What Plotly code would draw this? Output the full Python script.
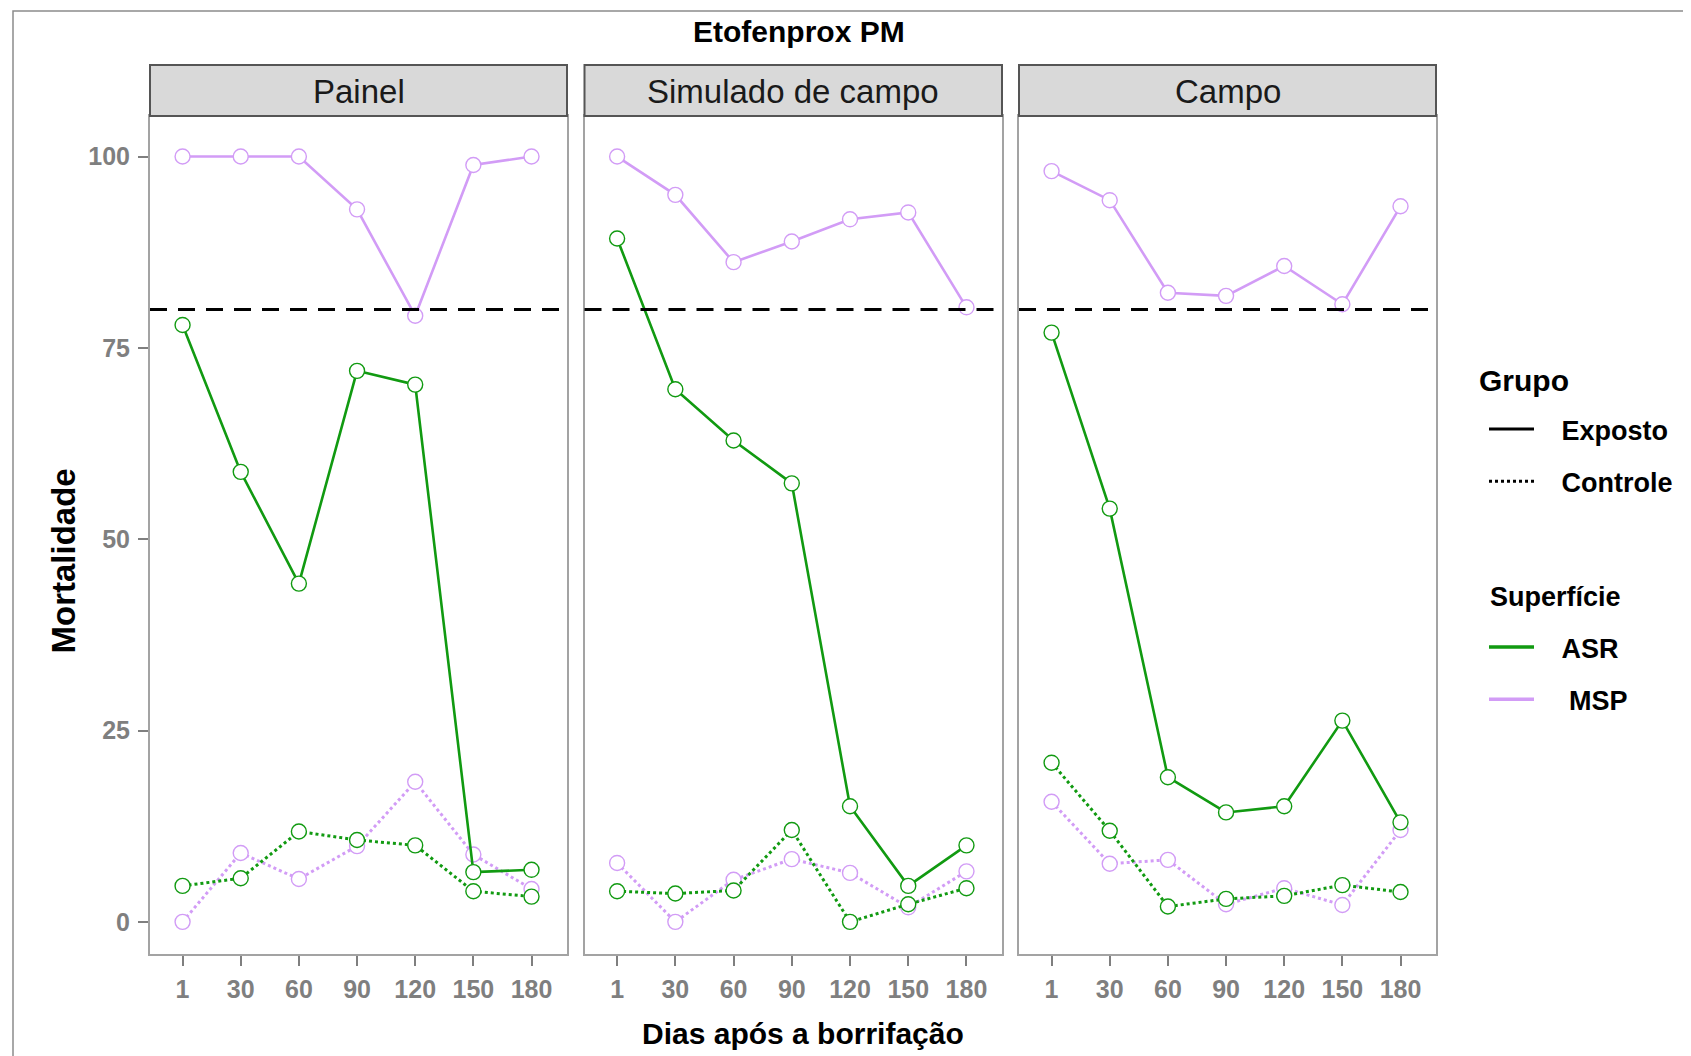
import plotly.graph_objects as go

# ---------------- data ----------------
days = ["1", "30", "60", "90", "120", "150", "180"]
panels = ["Painel", "Simulado de campo", "Campo"]
y_ticks = [0, 25, 50, 75, 100]
threshold = 80

asr_exp_painel = [78.0, 58.8, 44.2, 72.0, 70.2, 6.5, 6.8]
msp_exp_painel = [100.0, 100.0, 100.0, 93.1, 79.2, 98.9, 100.0]
asr_ctrl_painel = [4.7, 5.7, 11.8, 10.7, 10.0, 4.0, 3.3]
msp_ctrl_painel = [0.0, 9.0, 5.6, 9.9, 18.3, 8.8, 4.3]

asr_exp_sim = [89.3, 69.6, 62.9, 57.3, 15.1, 4.7, 10.0]
msp_exp_sim = [100.0, 95.0, 86.2, 88.9, 91.8, 92.7, 80.3]
asr_ctrl_sim = [4.0, 3.7, 4.1, 12.0, 0.0, 2.3, 4.4]
msp_ctrl_sim = [7.7, 0.0, 5.5, 8.2, 6.4, 1.9, 6.6]

asr_exp_campo = [77.0, 54.0, 18.9, 14.3, 15.1, 26.3, 13.0]
msp_exp_campo = [98.1, 94.3, 82.2, 81.8, 85.7, 80.7, 93.5]
asr_ctrl_campo = [20.8, 11.9, 2.0, 3.0, 3.4, 4.8, 3.9]
msp_ctrl_campo = [15.7, 7.6, 8.1, 2.3, 4.4, 2.2, 12.0]

panel_data = [
    {"ASR": {"Exposto": asr_exp_painel, "Controle": asr_ctrl_painel},
     "MSP": {"Exposto": msp_exp_painel, "Controle": msp_ctrl_painel}},
    {"ASR": {"Exposto": asr_exp_sim, "Controle": asr_ctrl_sim},
     "MSP": {"Exposto": msp_exp_sim, "Controle": msp_ctrl_sim}},
    {"ASR": {"Exposto": asr_exp_campo, "Controle": asr_ctrl_campo},
     "MSP": {"Exposto": msp_exp_campo, "Controle": msp_ctrl_campo}},
]

# ---------------- style ----------------
FONT = "Liberation Sans, Arial, sans-serif"
COLORS = {"ASR": "#119a11", "MSP": "#d29cf6"}
DASH = {"Exposto": "solid", "Controle": "dot"}
BORDER = "#a3a3a3"
TICKCOL = "#7f7f7f"

# page body has an 8px margin -> figure is drawn 8px right/down
OFF = 8
W, H = 1691, 1056 - OFF
ML, MT = 150 - OFF, 116 - OFF
MR = W - (1436 - OFF)
MB = H - (954 - OFF)
PW = W - ML - MR
PH = H - MT - MB
panel_px = [(150, 567), (584.5, 1002), (1019, 1436)]


def py(pix):  # page pixel y -> paper y
    return (H - MB - (pix - OFF)) / PH


def px(pix):  # page pixel x -> paper x
    return (pix - OFF - ML) / PW


domains = [[px(a), px(b)] for a, b in panel_px]
domains[0][0] = 0.0
domains[-1][1] = 1.0

fig = go.Figure()

for i, pdata in enumerate(panel_data):
    xa = "x" if i == 0 else f"x{i+1}"
    ya = "y" if i == 0 else f"y{i+1}"
    for grp in ["Controle", "Exposto"]:
        for surf in ["MSP", "ASR"]:
            fig.add_trace(go.Scatter(
                x=days, y=pdata[surf][grp], xaxis=xa, yaxis=ya,
                mode="lines+markers", showlegend=False,
                line=dict(color=COLORS[surf], width=2.6 if grp == "Exposto" else 3,
                          dash=DASH[grp]),
                marker=dict(symbol="circle", size=15, color="white",
                            line=dict(color=COLORS[surf], width=1.4)),
                name=f"{surf} {grp}",
            ))

# legend traces
NB = "\u00a0"
for grp in ["Exposto", "Controle"]:
    fig.add_trace(go.Scatter(
        x=[None], y=[None], mode="lines", name=NB * 3 + grp,
        line=dict(color="black", width=3, dash=DASH[grp]),
        legend="legend", legendgroup=grp, showlegend=True))
for surf in ["ASR", "MSP"]:
    fig.add_trace(go.Scatter(
        x=[None], y=[None], mode="lines",
        name=NB * 3 + (NB if surf == "MSP" else "") + surf,
        line=dict(color=COLORS[surf], width=3.5),
        legend="legend2", legendgroup=surf, showlegend=True))

layout = dict(
    width=W, height=H,
    margin=dict(l=ML, r=MR, t=MT, b=MB),
    paper_bgcolor="white", plot_bgcolor="white",
    font=dict(family=FONT, color="black"),
    legend=dict(
        font=dict(size=27, family=FONT, weight="bold"),
        x=px(1484), y=py(405), xanchor="left", yanchor="top",
        tracegroupgap=14, traceorder="grouped", bgcolor="rgba(0,0,0,0)",
        itemwidth=45,
    ),
    legend2=dict(
        font=dict(size=27, family=FONT, weight="bold"),
        x=px(1484), y=py(623), xanchor="left", yanchor="top",
        tracegroupgap=14, traceorder="grouped", bgcolor="rgba(0,0,0,0)",
        itemwidth=45,
    ),
)

for i in range(3):
    sx = "" if i == 0 else str(i + 1)
    layout[f"xaxis{sx}"] = dict(
        domain=domains[i], anchor=f"y{sx}", type="category",
        categoryorder="array", categoryarray=days,
        range=[-0.56, 6.61], showgrid=False, zeroline=False,
        showline=True, mirror=True, linecolor=BORDER, linewidth=2,
        ticks="outside", ticklen=10, tickwidth=2, tickcolor=TICKCOL,
        tickfont=dict(size=25, color=TICKCOL, family=FONT, weight="bold"),
        ticklabelstandoff=2,
    )
    layout[f"yaxis{sx}"] = dict(
        domain=[0, 1], anchor=f"x{sx}", range=[-4.2, 105.3],
        showgrid=False, zeroline=False,
        showline=True, mirror=True, linecolor=BORDER, linewidth=2,
        tickvals=y_ticks, ticktext=[str(v) for v in y_ticks],
        ticks="outside" if i == 0 else "", ticklen=10, tickwidth=2, tickcolor=TICKCOL,
        showticklabels=(i == 0),
        tickfont=dict(size=25, color=TICKCOL, family=FONT, weight="bold"),
        ticklabelstandoff=3,
    )

fig.update_layout(**layout)

shapes = []
annotations = []
for i, name in enumerate(panels):
    sx = "" if i == 0 else str(i + 1)
    shapes.append(dict(type="line", xref=f"x{sx} domain", yref=f"y{sx}",
                       x0=0, x1=1, y0=threshold, y1=threshold,
                       line=dict(color="black", width=3, dash="17px,11px"), layer="above"))
    shapes.append(dict(type="rect", xref=f"x{sx} domain", yref="paper",
                       x0=0, x1=1, y0=1.0, y1=py(65),
                       fillcolor="#d9d9d9", line=dict(color="#555555", width=2)))
    annotations.append(dict(text=name, xref=f"x{sx} domain", yref="paper",
                            x=0.5, y=py(91), showarrow=False,
                            xanchor="center", yanchor="middle",
                            font=dict(size=33, color="#1a1a1a", family=FONT)))

# outer border of the image
shapes.append(dict(type="rect", xref="paper", yref="paper",
                   x0=px(13), x1=px(1760), y0=py(1120), y1=py(11),
                   line=dict(color="#8c8c8c", width=1.5), fillcolor="rgba(0,0,0,0)"))

annotations.append(dict(text="<b>Etofenprox PM</b>", xref="paper", yref="paper",
                        x=px(799), y=py(32), showarrow=False, xanchor="center",
                        yanchor="middle", font=dict(size=30, family=FONT)))
annotations.append(dict(text="<b>Dias após a borrifação</b>", xref="paper", yref="paper",
                        x=px(803), y=py(1033), showarrow=False, xanchor="center",
                        yanchor="middle", font=dict(size=30, family=FONT)))
annotations.append(dict(text="<b>Mortalidade</b>", xref="paper", yref="paper",
                        x=px(62.5), y=py(561), showarrow=False, xanchor="center",
                        yanchor="middle", textangle=-90, font=dict(size=33, family=FONT)))
# legend titles
annotations.append(dict(text="<b>Grupo</b>", xref="paper", yref="paper",
                        x=px(1477), y=py(380), showarrow=False, xanchor="left",
                        yanchor="middle", font=dict(size=30, family=FONT)))
annotations.append(dict(text="<b>Superfície</b>", xref="paper", yref="paper",
                        x=px(1488), y=py(597), showarrow=False, xanchor="left",
                        yanchor="middle", font=dict(size=27, family=FONT)))

fig.update_layout(shapes=shapes, annotations=annotations)

fig.write_html("out.html")
